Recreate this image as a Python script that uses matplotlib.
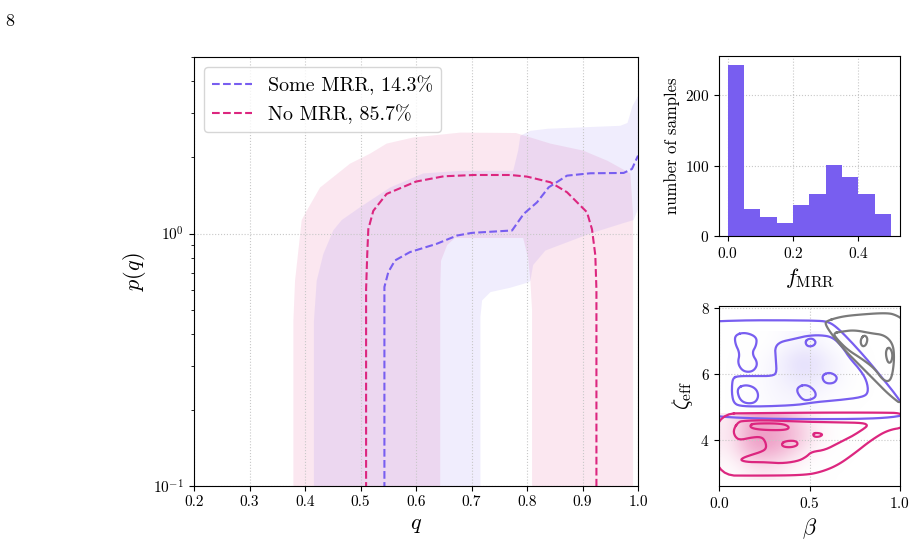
import numpy as np
import matplotlib
matplotlib.use("Agg")
import matplotlib.pyplot as plt
from matplotlib.colors import LinearSegmentedColormap

plt.rcParams["font.family"] = "serif"
plt.rcParams["font.serif"] = ["cmr10", "DejaVu Serif"]
plt.rcParams["mathtext.fontset"] = "cm"
plt.rcParams["axes.formatter.use_mathtext"] = True
plt.rcParams["axes.unicode_minus"] = False

BLUE = "#785EF0"
PINK = "#DC267F"
GRAY = "#7a7a7a"

# ---- main panel: median curves p(q) ----
some_q = [0.543, 0.543, 0.543, 0.550, 0.562, 0.589, 0.637, 0.674, 0.701, 0.773,
          0.794, 0.818, 0.839, 0.872, 0.914, 0.974, 0.989, 1.0]
some_p = [0.05, 0.35, 0.614, 0.703, 0.782, 0.844, 0.910, 0.982, 1.006, 1.028,
          1.196, 1.329, 1.524, 1.695, 1.732, 1.737, 1.801, 2.034]
no_q = [0.510, 0.510, 0.512, 0.514, 0.523, 0.547, 0.600, 0.650, 0.704, 0.770,
        0.800, 0.842, 0.872, 0.908, 0.917, 0.923, 0.925, 0.925]
no_p = [0.05, 0.60, 0.82, 1.04, 1.23, 1.435, 1.606, 1.685, 1.705, 1.705,
        1.68, 1.596, 1.457, 1.214, 1.04, 0.82, 0.60, 0.05]

# uncertainty regions (outline of each band)
no_band_q = [0.379, 0.379, 0.382, 0.394, 0.403, 0.427, 0.481, 0.517, 0.547, 0.595,
             0.680, 0.780, 0.842, 0.901, 0.945, 0.986, 0.991, 0.991,
             0.809, 0.809, 0.806, 0.802, 0.793, 0.670, 0.656, 0.645, 0.6435, 0.6435]
no_band_p = [0.05, 0.45, 0.65, 1.13, 1.23, 1.52, 1.89, 2.07, 2.27, 2.40,
             2.51, 2.50, 2.27, 2.13, 1.94, 1.73, 1.20, 0.05,
             0.05, 0.50, 0.65, 0.80, 0.96, 0.96, 0.90, 0.78, 0.60, 0.05]
some_band_q = [0.416, 0.416, 0.421, 0.433, 0.451, 0.466, 0.499, 0.553, 0.613, 0.680,
               0.775, 0.784, 0.788, 0.806, 0.838, 0.968, 0.981, 0.990, 1.0,
               1.0, 0.992, 0.974, 0.914, 0.833, 0.811, 0.806, 0.802, 0.770, 0.734,
               0.719, 0.716, 0.716]
some_band_p = [0.05, 0.45, 0.65, 0.83, 1.03, 1.13, 1.27, 1.52, 1.73, 1.77,
               1.77, 2.13, 2.44, 2.55, 2.60, 2.67, 2.74, 3.20, 3.50,
               1.25, 1.13, 1.10, 1.00, 0.856, 0.75, 0.65, 0.64, 0.61, 0.586,
               0.543, 0.467, 0.05]

# ---- histogram of f_MRR ----
f_edges = np.arange(0, 0.5001, 0.05)
f_counts = [243, 38, 27, 18, 44, 60, 101, 84, 60, 31]

# ---- beta / zeta_eff panel: sample density (cells) ----
beta_edges = np.linspace(0, 1, 11)
no_zeta_edges = [2.8, 4.8]
no_density = [[0.15, 0.35, 0.45, 0.35, 0.15, 0.03, 0.00, 0.00, 0.00, 0.00],
              [0.35, 0.75, 0.85, 0.75, 0.50, 0.20, 0.05, 0.00, 0.00, 0.00],
              [0.45, 0.90, 1.00, 0.90, 0.75, 0.40, 0.15, 0.02, 0.00, 0.00],
              [0.40, 0.85, 0.90, 0.85, 0.65, 0.35, 0.12, 0.03, 0.00, 0.00]]
some_zeta_edges = [4.8, 7.3]
some_density = [[0.00, 0.15, 0.30, 0.40, 0.40, 0.30, 0.15, 0.00, 0.00, 0.00],
                [0.00, 0.15, 0.35, 0.50, 0.60, 0.50, 0.35, 0.15, 0.00, 0.00],
                [0.00, 0.15, 0.35, 0.60, 0.85, 0.75, 0.50, 0.20, 0.00, 0.00],
                [0.00, 0.10, 0.30, 0.60, 0.85, 0.75, 0.45, 0.15, 0.00, 0.00],
                [0.00, 0.00, 0.10, 0.30, 0.45, 0.40, 0.15, 0.00, 0.00, 0.00]]

# contour lines (beta, zeta); outer ones run past the frame
blue_contours = [
    ([-0.03, 0.031, 0.169, 0.353, 0.537, 0.601, 0.647, 0.721, 0.813, 0.904, 0.978, 1.03,
      1.03, 0.913, 0.720, 0.445, 0.224, 0.031, -0.03, -0.03],
     [7.60, 7.616, 7.636, 7.636, 7.626, 7.596, 7.444, 7.04, 6.485, 5.879, 5.374, 4.95,
      4.76, 4.676, 4.645, 4.645, 4.66, 4.706, 4.75, 7.60]),
    ([0.076, 0.103, 0.197, 0.291, 0.318, 0.313, 0.307, 0.335, 0.401, 0.478, 0.555, 0.627,
      0.682, 0.721, 0.776, 0.815, 0.826, 0.798, 0.666, 0.533, 0.434, 0.224, 0.114, 0.081,
      0.070, 0.070, 0.076],
     [5.888, 5.948, 5.948, 5.948, 6.039, 6.433, 6.797, 6.979, 7.055, 7.161, 7.191, 7.13,
      6.827, 6.494, 6.161, 5.827, 5.464, 5.312, 5.221, 5.161, 5.07, 5.024, 5.039, 5.13,
      5.373, 5.676, 5.888]),
    ([0.087, 0.142, 0.206, 0.206, 0.179, 0.215, 0.188, 0.132, 0.101, 0.114, 0.087, 0.087],
     [7.191, 7.273, 7.139, 6.888, 6.636, 6.333, 6.079, 6.079, 6.333, 6.636, 6.939, 7.191]),
    ([0.098, 0.147, 0.202, 0.219, 0.197, 0.142, 0.109, 0.098],
     [5.585, 5.691, 5.585, 5.342, 5.13, 5.121, 5.273, 5.585]),
    ([0.436, 0.482, 0.528, 0.537, 0.500, 0.462, 0.429, 0.436],
     [5.624, 5.697, 5.524, 5.321, 5.221, 5.221, 5.464, 5.624]),
    ([0.566, 0.611, 0.656, 0.638, 0.583, 0.566],
     [5.964, 6.07, 5.927, 5.727, 5.727, 5.964]),
    ([0.475, 0.489, 0.517, 0.536, 0.522, 0.489, 0.475],
     [6.964, 7.07, 7.085, 6.979, 6.858, 6.842, 6.964]),
]
gray_contours = [
    ([0.589, 0.666, 0.748, 0.930, 0.985, 1.03, 1.03, 0.941, 0.859, 0.776, 0.693, 0.621,
      0.589, 0.589],
     [7.606, 7.736, 7.797, 7.867, 7.78, 7.60, 5.0, 5.373, 5.827, 6.282, 6.736, 7.221,
      7.494, 7.606]),
    ([0.629, 0.675, 0.748, 0.841, 0.914, 0.960, 0.969, 0.960, 0.942, 0.905, 0.859, 0.785,
      0.712, 0.656, 0.629],
     [7.242, 7.291, 7.342, 7.242, 7.191, 6.939, 6.533, 6.03, 5.776, 5.827, 6.182, 6.485,
      6.736, 7.039, 7.242]),
    ([0.785, 0.804, 0.822, 0.813, 0.794, 0.782, 0.785],
     [7.091, 7.191, 7.091, 6.888, 6.836, 6.939, 7.091]),
    ([0.923, 0.941, 0.960, 0.954, 0.936, 0.923, 0.923],
     [6.736, 6.836, 6.636, 6.382, 6.333, 6.533, 6.736]),
]
pink_contours = [
    ([-0.03, 0.224, 0.555, 0.886, 1.03, 1.03, 0.932, 0.841, 0.748, 0.656, 0.565, 0.473,
      0.224, -0.03, -0.03],
     [4.812, 4.827, 4.842, 4.842, 4.827, 4.40, 4.312, 4.009, 3.606, 3.251, 3.048, 2.948,
      2.933, 2.94, 4.812]),
    ([0.105, 0.077, 0.087, 0.114, 0.179, 0.234, 0.256, 0.261, 0.234, 0.142, 0.114, 0.160,
      0.252, 0.344, 0.436, 0.482, 0.510, 0.583, 0.656, 0.730, 0.804, 0.822, 0.794, 0.656,
      0.473, 0.252, 0.142, 0.105],
     [4.564, 4.312, 4.109, 4.009, 4.091, 4.109, 3.958, 3.758, 3.655, 3.503, 3.403, 3.342,
      3.342, 3.303, 3.373, 3.503, 3.655, 3.706, 3.909, 4.109, 4.364, 4.464, 4.533, 4.545,
      4.564, 4.615, 4.594, 4.564]),
    ([0.169, 0.197, 0.344, 0.390, 0.372, 0.252, 0.179, 0.169],
     [4.464, 4.515, 4.515, 4.412, 4.312, 4.312, 4.364, 4.464]),
    ([0.344, 0.372, 0.427, 0.436, 0.399, 0.353, 0.344],
     [3.909, 3.988, 3.988, 3.858, 3.788, 3.806, 3.909]),
    ([0.518, 0.546, 0.574, 0.555, 0.524, 0.518],
     [4.212, 4.23, 4.182, 4.109, 4.109, 4.212]),
]


def fade_cmap(color):
    return LinearSegmentedColormap.from_list("fade", [(1, 1, 1, 0), color])


def chaikin(xs, ys, n=3):
    # corner cutting on a closed outline, just to round off the traced corners
    pts = np.column_stack([xs, ys])[:-1]
    for _ in range(n):
        nxt = np.roll(pts, -1, axis=0)
        q = 0.75 * pts + 0.25 * nxt
        r = 0.25 * pts + 0.75 * nxt
        pts = np.empty((2 * len(q), 2))
        pts[0::2] = q
        pts[1::2] = r
    pts = np.vstack([pts, pts[:1]])
    return pts[:, 0], pts[:, 1]


fig = plt.figure(figsize=(9.17, 5.44), dpi=100)
fig.text(0.006, 0.975, "8", fontsize=13, va="top", ha="left")

# main panel
ax = fig.add_axes([0.2116, 0.1066, 0.4842, 0.7886])
ax.fill(no_band_q, no_band_p, color=PINK, alpha=0.11, lw=0)
ax.fill(some_band_q, some_band_p, color=BLUE, alpha=0.11, lw=0)
ax.plot(some_q, some_p, "--", color=BLUE, lw=1.5, label="Some MRR, 14.3%")
ax.plot(no_q, no_p, "--", color=PINK, lw=1.5, label="No MRR, 85.7%")
ax.set_yscale("log")
ax.set_xlim(0.2, 1.0)
ax.set_ylim(0.1, 5.0)
ax.set_xticks(np.arange(0.2, 1.01, 0.1))
ax.set_xticklabels(["%.1f" % t for t in np.arange(0.2, 1.01, 0.1)])
ax.grid(True, ls=":", color="#c8c8c8", lw=0.8)
ax.tick_params(labelsize=11)
ax.set_xlabel("$q$", fontsize=16)
ax.set_ylabel("$p(q)$", fontsize=16)
ax.legend(loc="upper left", fontsize=14.4, framealpha=0.8, handlelength=2.0)

# histogram
axh = fig.add_axes([0.7844, 0.5662, 0.197, 0.331])
axh.bar(f_edges[:-1], f_counts, width=0.05, align="edge", color=BLUE)
axh.set_xlim(-0.0255, 0.5276)
axh.set_ylim(0, 256)
axh.set_xticks([0.0, 0.2, 0.4])
axh.set_yticks([0, 100, 200])
axh.grid(True, ls=":", color="#c8c8c8", lw=0.8)
axh.set_axisbelow(True)
axh.tick_params(labelsize=11)
axh.set_xlabel(r"$f_{\rm MRR}$", fontsize=16)
axh.set_ylabel("number of samples", fontsize=12)

# beta vs zeta_eff
axs = fig.add_axes([0.7844, 0.1066, 0.197, 0.331])
axs.imshow(no_density, origin="lower", aspect="auto", cmap=fade_cmap((0.86, 0.15, 0.5, 0.5)),
           extent=[beta_edges[0], beta_edges[-1], no_zeta_edges[0], no_zeta_edges[1]],
           interpolation="bicubic", vmin=0, vmax=1)
axs.imshow(some_density, origin="lower", aspect="auto", cmap=fade_cmap((0.47, 0.37, 0.94, 0.28)),
           extent=[beta_edges[0], beta_edges[-1], some_zeta_edges[0], some_zeta_edges[1]],
           interpolation="bicubic", vmin=0, vmax=1)
for xs, ys in blue_contours:
    axs.plot(*chaikin(xs, ys), color=BLUE, lw=1.6)
for xs, ys in gray_contours:
    axs.plot(*chaikin(xs, ys), color=GRAY, lw=1.6)
for xs, ys in pink_contours:
    axs.plot(*chaikin(xs, ys), color=PINK, lw=1.6)
axs.set_xlim(0, 1)
axs.set_ylim(2.62, 8.07)
axs.set_xticks([0.0, 0.5, 1.0])
axs.set_yticks([4, 6, 8])
axs.grid(True, ls=":", color="#c8c8c8", lw=0.8)
axs.tick_params(labelsize=11)
axs.set_xlabel(r"$\beta$", fontsize=16)
axs.set_ylabel(r"$\zeta_{\rm eff}$", fontsize=16)

fig.savefig("out.png", dpi=100)
